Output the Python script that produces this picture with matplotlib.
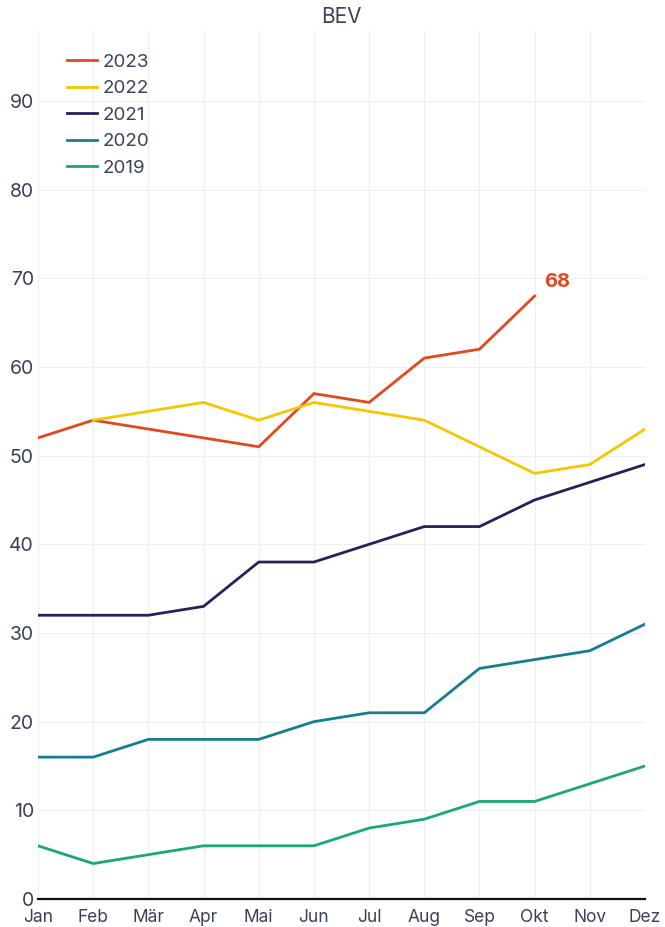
import matplotlib
matplotlib.use("Agg")
import matplotlib.pyplot as plt
import numpy as np

months = ["Jan", "Feb", "Mär", "Apr", "Mai", "Jun", "Jul", "Aug", "Sep", "Okt", "Nov", "Dez"]
s2023 = [52, 54, 53, 52, 51, 57, 56, 61, 62, 68, None, None]
s2022 = [None, 54, 55, 56, 54, 56, 55, 54, 51, 48, 49, 53]
s2021 = [32, 32, 32, 33, 38, 38, 40, 42, 42, 45, 47, 49]
s2020 = [16, 16, 18, 18, 18, 20, 21, 21, 26, 27, 28, 31]
s2019 = [6, 4, 5, 6, 6, 6, 8, 9, 11, 11, 13, 15]
series = [("2023", s2023, "#E2491E"), ("2022", s2022, "#F6C700"),
          ("2021", s2021, "#25225B"), ("2020", s2020, "#157E8F"),
          ("2019", s2019, "#1BA878")]
yticks = [0, 10, 20, 30, 40, 50, 60, 70, 80, 90]

plt.rcParams['font.family'] = ['Inter', 'DejaVu Sans']
txt = "#3B4257"

fig = plt.figure(figsize=(6.65, 9.27), dpi=100)
ax = fig.add_axes([38/665, 28/927, 607/665, 869/927])
x = np.arange(len(months))
for name, vals, col in series:
    y = np.array([np.nan if v is None else v for v in vals], dtype=float)
    ax.plot(x, y, color=col, lw=2.0, label=name, solid_joinstyle='miter', zorder=3)

ax.annotate("68", xy=(9, 68), xytext=(7, 10), textcoords="offset points",
            color="#E2491E", fontsize=14.5, fontweight="bold", va="center", ha="left")

ax.set_xlim(0, 11)
ax.set_ylim(0, 98)
ax.set_xticks(x)
ax.set_xticklabels(months)
ax.set_yticks(yticks)
ax.tick_params(axis='both', length=0, colors=txt, labelsize=14)
ax.tick_params(axis='x', pad=7, labelsize=12.5)
ax.tick_params(axis='y', pad=3)
ax.grid(True, color="#EEEFF3", lw=0.8, zorder=0)
for s in ["top", "right", "left"]:
    ax.spines[s].set_visible(False)
ax.spines["bottom"].set_color("#111111")
ax.spines["bottom"].set_linewidth(1.6)
ax.spines["bottom"].set_zorder(4)

ax.set_title("BEV", color=txt, fontsize=15, pad=5)
leg = ax.legend(loc="upper left", bbox_to_anchor=(0.02, 0.992), frameon=False,
                fontsize=13.5, handlelength=1.6, handletextpad=0.3, labelspacing=0.5,
                labelcolor=txt)
fig.savefig("out.png", dpi=100)
